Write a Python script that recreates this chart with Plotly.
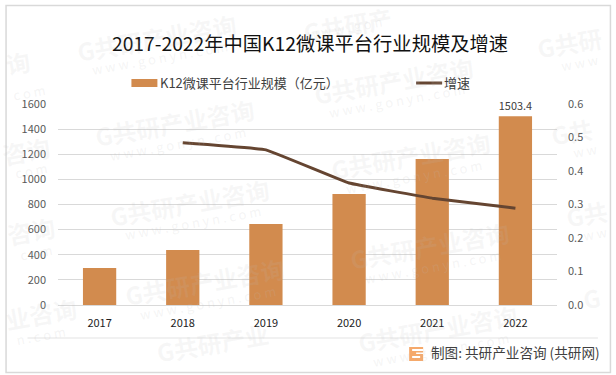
import plotly.graph_objects as go

years = ["2017", "2018", "2019", "2020", "2021", "2022"]
scale = [295, 438, 645, 884, 1162, 1503.4]
growth = [None, 0.484, 0.463, 0.364, 0.319, 0.289]
bar_labels = ["", "", "", "", "", "1503.4"]
left_ticks = [0, 200, 400, 600, 800, 1000, 1200, 1400, 1600]
right_ticks = [0, 0.1, 0.2, 0.3, 0.4, 0.5, 0.6]
right_tick_text = ["0.0", "0.1", "0.2", "0.3", "0.4", "0.5", "0.6"]
title = "2017-2022年中国K12微课平台行业规模及增速"
source = "制图: 共研产业咨询 (共研网)"
bar_name = "K12微课平台行业规模（亿元）"
line_name = "增速"
wm_full = "G共研产业咨询"
wm_en = "w w w . g o n y n . c o m"
wm_cn_spots = [(156, 37, wm_full), (393, 80, wm_full), (174, 122, wm_full), (189, 202, wm_full), (204, 281, wm_full),
               (410, 155, wm_full), (429, 245, wm_full), (437, 328, wm_full), (212, 342, "G共研产业"),
               (347, 24, "G共研产"), (570, 43, "G共研"), (572, 131, "G共"), (587, 213, "G共"), (592, 297, "G"),
               (17, 62, "询"), (25, 150, "咨询"), (30, 230, "咨询"), (40, 313, "业咨询")]
wm_en_spots = [(160, 58, wm_en), (397, 100, wm_en), (178, 143, wm_en), (193, 222, wm_en), (208, 302, wm_en),
               (414, 176, wm_en), (433, 266, wm_en), (441, 349, wm_en),
               (345, 27, "w w w . g o n"), (580, 62, "w w w"), (585, 150, "w w"), (595, 233, "w w"),
               (28, 92, "c o m"), (30, 170, "c o m"), (35, 252, "c o m"), (40, 335, "n . c o m")]

FONT = "Noto Sans CJK SC"
W, H = 616, 375
L, R, T, B = 57.5, 557, 104, 305


def px(x):
    return (x - L) / (R - L)


def py(y):
    return (B - y) / (B - T)


fig = go.Figure()
fig.add_trace(go.Bar(x=years, y=scale, name=bar_name, marker_color="#D28B4E", showlegend=False,
                     marker_line_width=0, width=0.4, text=bar_labels, textposition="outside", cliponaxis=False,
                     textfont=dict(size=11, color="#404040", family=FONT)))
fig.add_trace(go.Scatter(x=years, y=growth, name=line_name, mode="lines", yaxis="y2", showlegend=False,
                         line=dict(color="#654531", width=3, shape="spline", smoothing=0.2)))

for x, y, t in wm_cn_spots:
    fig.add_annotation(xref="paper", yref="paper", x=px(x), y=py(y), xanchor="center", yanchor="middle",
                       text=f"<b>{t}</b>", showarrow=False,
                       textangle=-10, font=dict(size=24, color="rgba(190,190,190,0.12)", family=FONT))
for x, y, t in wm_en_spots:
    fig.add_annotation(xref="paper", yref="paper", x=px(x), y=py(y), xanchor="center", yanchor="middle",
                       text=t, showarrow=False,
                       textangle=-10, font=dict(size=13, color="rgba(190,190,190,0.16)", family=FONT))

# legend row
fig.add_shape(type="rect", xref="paper", yref="paper", x0=px(131), x1=px(157), y0=py(87), y1=py(79),
              fillcolor="#D28B4E", line_width=0)
fig.add_annotation(xref="paper", yref="paper", x=px(158), y=py(83), xanchor="left", yanchor="middle", text=bar_name,
                   showarrow=False, font=dict(size=13, color="#404040", family=FONT))
fig.add_shape(type="line", xref="paper", yref="paper", x0=px(416), x1=px(442), y0=py(83), y1=py(83),
              line=dict(color="#654531", width=3))
fig.add_annotation(xref="paper", yref="paper", x=px(442), y=py(83), xanchor="left", yanchor="middle", text=line_name,
                   showarrow=False, font=dict(size=13, color="#404040", family=FONT))

# footer
fig.add_annotation(xref="paper", yref="paper", x=px(429), y=py(352), xanchor="left", yanchor="middle",
                   text=source, showarrow=False, font=dict(size=13.6, color="#404040", family=FONT))
fig.add_shape(type="rect", xref="paper", yref="paper", x0=px(409), x1=px(423), y0=py(361), y1=py(347),
              fillcolor="#F5A96B", line_width=0)
fig.add_shape(type="rect", xref="paper", yref="paper", x0=px(412), x1=px(423), y0=py(351), y1=py(349),
              fillcolor="white", line_width=0)
fig.add_shape(type="rect", xref="paper", yref="paper", x0=px(412), x1=px(420), y0=py(358), y1=py(356),
              fillcolor="white", line_width=0)
fig.add_shape(type="rect", xref="paper", yref="paper", x0=px(416), x1=px(423), y0=py(354), y1=py(352.5),
              fillcolor="white", line_width=0)

fig.add_shape(type="rect", xref="paper", yref="paper", x0=px(5.5), x1=px(610.5),
              y0=py(372.5), y1=py(5.5), line=dict(color="#D9D9D9", width=1.5), layer="below")
fig.add_shape(type="line", xref="paper", yref="paper", x0=px(27), x1=px(598),
              y0=py(338), y1=py(338), line=dict(color="#E3E3E3", width=1), layer="below")

fig.update_layout(
    width=W, height=H, autosize=False, paper_bgcolor="white", plot_bgcolor="rgba(0,0,0,0)",
    margin=dict(l=L, r=W - R, t=T, b=H - B),
    font=dict(family=FONT, color="#595959", size=11),
    showlegend=False,
    title=dict(text=title, x=310 / W, xanchor="center", xref="container", y=1 - 44 / H, yanchor="middle",
               font=dict(size=19.3, color="#111111", family=FONT)),
    bargap=0.6,
    xaxis=dict(type="category", showgrid=False, showline=True, linecolor="#D9D9D9", ticks="",
               tickfont=dict(size=11, color="#222222", family=FONT), ticklabelstandoff=8),
    yaxis=dict(range=[0, 1600], tickvals=left_ticks, showgrid=True, gridcolor="#D9D9D9", zeroline=False, ticks="",
               tickfont=dict(size=11, color="#595959", family=FONT), ticklabelstandoff=11),
    yaxis2=dict(range=[0, 0.6], tickvals=right_ticks, ticktext=right_tick_text, overlaying="y", side="right", showgrid=False,
                zeroline=False, ticks="", tickfont=dict(size=11, color="#595959", family=FONT), ticklabelstandoff=10),
)
fig.write_html("out.html", config={"displayModeBar": False},
               post_script="document.body.style.margin='0';document.body.style.overflow='hidden';")
